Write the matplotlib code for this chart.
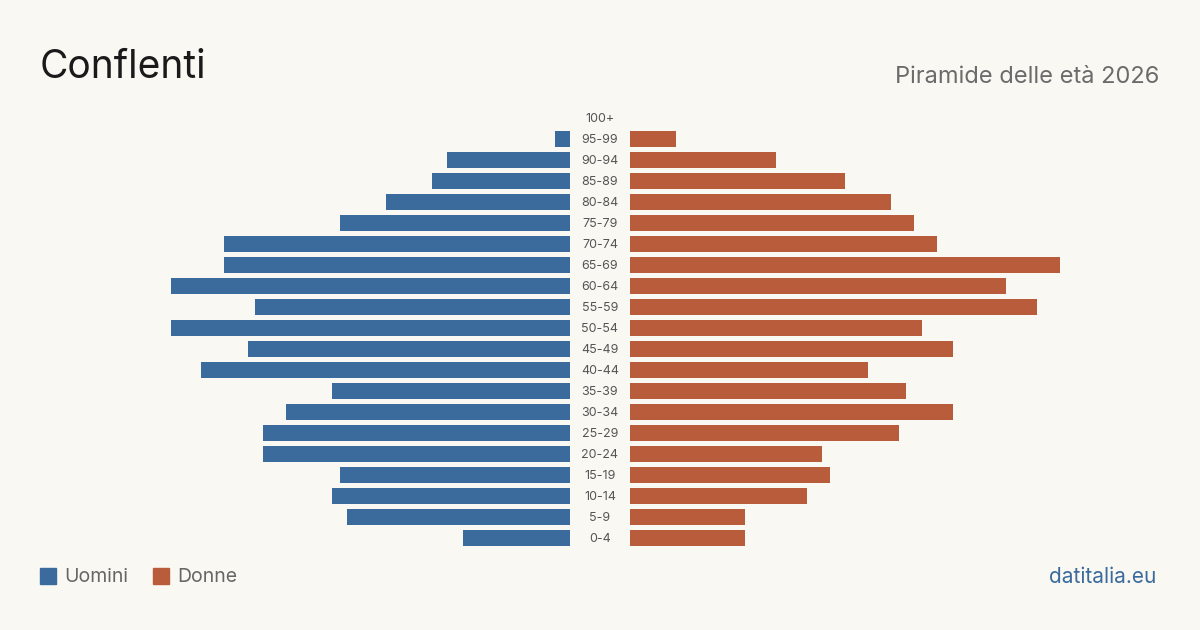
import matplotlib.pyplot as plt
from matplotlib.patches import Rectangle

plt.rcParams['font.family'] = ['Inter', 'DejaVu Sans']

# ---- Dati ----
fasce = ["0-4", "5-9", "10-14", "15-19", "20-24", "25-29", "30-34", "35-39",
         "40-44", "45-49", "50-54", "55-59", "60-64", "65-69", "70-74",
         "75-79", "80-84", "85-89", "90-94", "95-99", "100+"]
uomini = [14, 29, 31, 30, 40, 40, 37, 31, 48, 42, 52, 41, 52, 45, 45,
          30, 24, 18, 16, 2, 0]
donne = [15, 15, 23, 26, 25, 35, 42, 36, 31, 42, 38, 53, 49, 56, 40,
         37, 34, 28, 19, 6, 0]

BG = "#f9f8f3"
BLU = "#3b6b9c"
ARANCIO = "#b95c3b"

W, H = 1200, 630
fig = plt.figure(figsize=(12, 6.3), dpi=100, facecolor=BG)

# assi: sinistra (uomini) e destra (donne)
top, bottom = 107.5, 548.5
scala = 430 / 56  # pixel per persona
ax_l = fig.add_axes([40 / W, 1 - bottom / H, 530 / W, (bottom - top) / H])
ax_r = fig.add_axes([630 / W, 1 - bottom / H, 530 / W, (bottom - top) / H])

y = range(len(fasce))
ax_l.barh(y, uomini, height=0.8, color=BLU)
ax_r.barh(y, donne, height=0.8, color=ARANCIO)
ax_l.set_xlim(530 / scala, 0)
ax_r.set_xlim(0, 530 / scala)

for ax in (ax_l, ax_r):
    ax.set_ylim(-0.5, len(fasce) - 0.5)
    ax.set_facecolor("none")
    ax.axis("off")

# etichette centrali
for i, f in enumerate(fasce):
    ax_r.annotate(f, xy=(0, i), xycoords=("axes fraction", "data"),
                  xytext=(-30, -1), textcoords="offset pixels",
                  ha="center", va="center", fontsize=9, color="#555555")

# titoli
fig.text(40 / W, 1 - 67 / H, "Conflenti", fontsize=28, color="#1a1a1a",
         ha="left", va="center")
fig.text(1159 / W, 1 - 77 / H, "Piramide delle età 2026", fontsize=17,
         color="#6b6b6b", ha="right", va="center")

# legenda
for x0, lab, c in [(40, "Uomini", BLU), (153, "Donne", ARANCIO)]:
    fig.patches.append(Rectangle((x0 / W, 1 - 584 / H), 16 / W, 16 / H,
                                 transform=fig.transFigure, color=c))
    fig.text((x0 + 24) / W, 1 - 577 / H, lab, fontsize=14, color="#666666",
             ha="left", va="center")

fig.text(1156 / W, 1 - 577 / H, "datitalia.eu", fontsize=15, color=BLU,
         ha="right", va="center")

fig.savefig("out.png", dpi=100, facecolor=BG)
